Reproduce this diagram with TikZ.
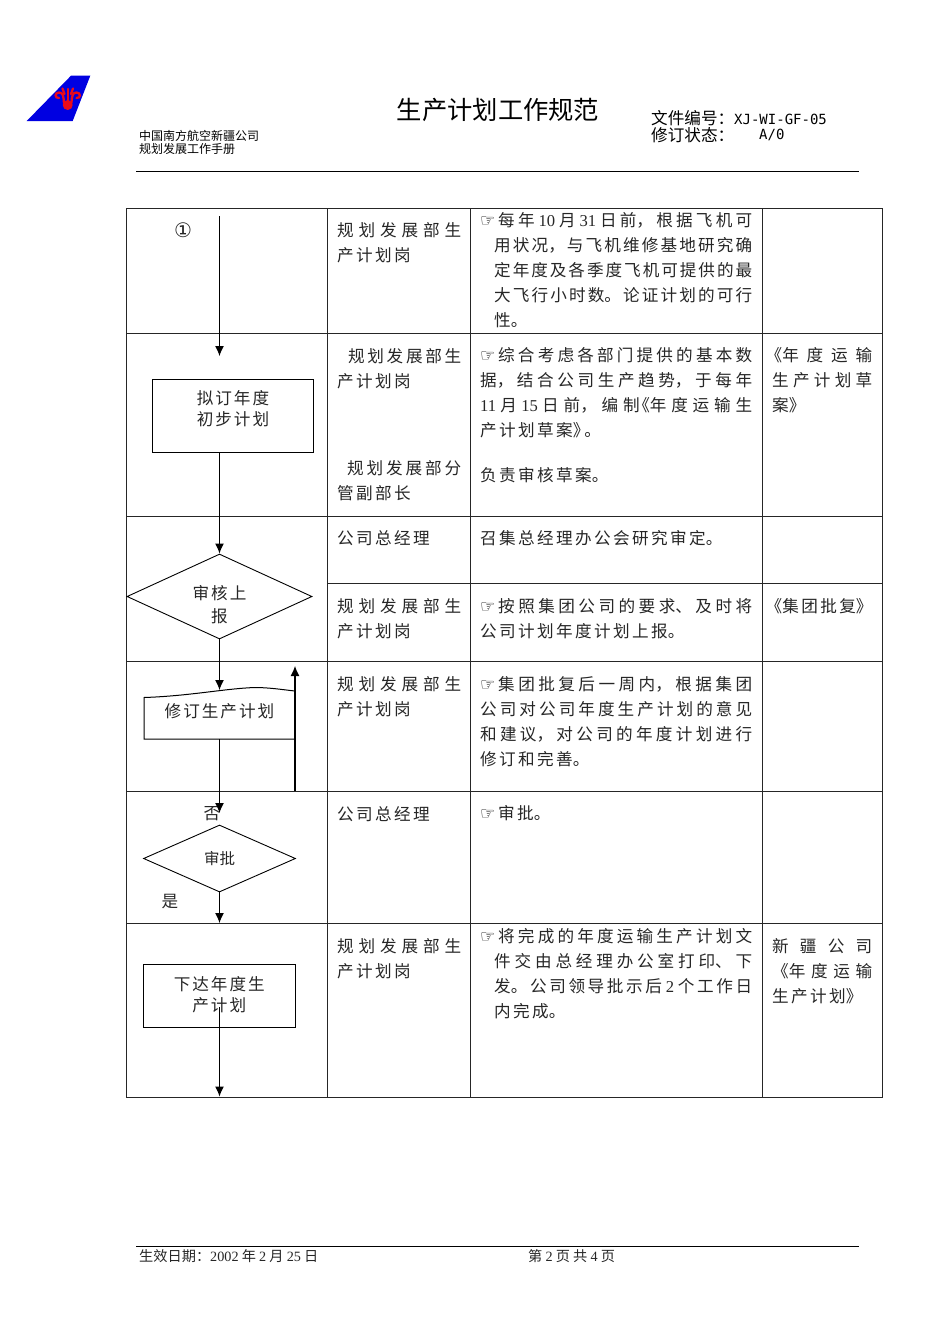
\documentclass[tikz,border=0pt]{standalone}
\usepackage{fontspec}
\usepackage{tikz}
\usetikzlibrary{arrows.meta,shapes.geometric}
\setmainfont{Noto Sans CJK SC}
\newfontfamily\latfont{Liberation Serif}
\newfontfamily\symfont{DejaVu Sans}
\newfontfamily\monofont{DejaVu Sans Mono}
\newfontfamily\flowcjk[LetterSpace=12]{Noto Sans CJK SC}
\XeTeXlinebreaklocale "zh"
\XeTeXlinebreakskip=2.4pt plus 8pt minus 2.4pt
\tolerance=9999
\hbadness=10000
\hfuzz=20pt
\newcommand{\lat}[1]{{\latfont #1}}
\newcommand{\hand}{\makebox[18pt][l]{\fontsize{17}{25}\selectfont\symfont\color{black}☞}}
\newcommand{\lbk}{\kern-6.5pt《}
\newcommand{\rbk}{》\kern-7pt\hskip 2pt}
\newcommand{\bodyfont}{\fontsize{16.6}{25}\selectfont}
\newcommand{\flowfont}{\flowcjk\fontsize{16.6}{20.5}\selectfont}
\tikzstyle{grid} = [line width=0.9pt,color=black!85]
\tikzstyle{rule} = [line width=1.3pt]
\tikzstyle{body} = [anchor=north west,inner sep=0pt,font=\bodyfont,align=justify,text width=272pt,text=black!85]
\tikzstyle{post} = [body,text width=124pt]
\tikzstyle{record} = [body,text width=100pt]
\tikzstyle{flowtext} = [inner sep=0pt,font=\flowfont,align=center,text=black!85]
\tikzstyle{headtext} = [inner sep=0pt,anchor=west,align=left,text=black]
\tikzstyle{flowbox} = [draw,rectangle,line width=1pt,inner sep=0pt]
\tikzstyle{decide} = [draw,diamond,line width=0.9pt,inner sep=0pt,align=center,text=black!85]
\tikzstyle{arrow} = [line width=1.1pt,-{Latex[length=10pt,width=9pt]}]
\tikzstyle{plain} = [line width=1pt]
\definecolor{tailblue}{RGB}{0,0,225}
\definecolor{tailred}{RGB}{235,10,25}

\begin{document}
\begin{tikzpicture}[x=1pt,y=-1pt]
\useasboundingbox (0,0) rectangle (950,1344);

% logo
\fill[tailblue] (71,75.7) -- (90.3,75.7) -- (72.7,121) -- (26.7,121) -- cycle;
\begin{scope}[color=tailred,line width=2.3pt,line cap=round]
\fill (67.7,105) circle (5);
\draw (67.7,89) -- (67.7,102);
\draw (64,103) .. controls (63.5,96) and (63,92.5) .. (59,92.5) .. controls (54.5,92.5) and (54.5,98.5) .. (59,98);
\draw (71.4,103) .. controls (72,96) and (72.5,92.5) .. (76.5,92.5) .. controls (81,92.5) and (81,98.5) .. (76.5,98);
\draw (62.5,88.5) -- (64.5,94);
\draw (73,88.5) -- (71,94);
\end{scope}

% header
\node[inner sep=0pt,font=\fontsize{25.3}{30}\selectfont] (title) at (498,110) {生产计划工作规范};
\node[headtext,font=\fontsize{12}{13}\selectfont] (company) at (139,142.5) {中国南方航空新疆公司\\规划发展工作手册};
\node[headtext,font=\fontsize{16.6}{17}\selectfont] (docno) at (651,118) {文件编号：{\monofont\fontsize{14}{17}\selectfont XJ-WI-GF-05}};
\node[headtext,font=\fontsize{16.6}{17}\selectfont] (state) at (651,135) {修订状态：};
\node[headtext,font=\monofont\fontsize{14}{17}\selectfont] (version) at (759,135) {A/0};
\draw[rule] (136,171.5) -- (859,171.5);

% table
\draw[grid] (126.5,208) rectangle (882,1097);
\draw[grid] (327.5,208) -- (327.5,1097);
\draw[grid] (470.5,208) -- (470.5,1097);
\draw[grid] (762,208) -- (762,1097);
\foreach \rowy in {333.5,516,661,791,923.5}
  \draw[grid] (126.5,\rowy) -- (882,\rowy);
\draw[grid] (327.5,583.5) -- (882,583.5);

% flow
\node[flowtext,font=\symfont\fontsize{20}{22}\selectfont] (mark) at (183,230) {①};
\coordinate (start) at (219.5,216);
\coordinate (draftin) at (219.5,356);
\node[flowbox,minimum width=161pt,minimum height=73pt] (draft) at (232.5,415.5) {};
\node[flowtext] (drafttext) at (233,408.5) {拟订年度\\初步计划};
\node[decide,minimum width=185pt,minimum height=85pt] (audit) at (219.5,596.5) {};
\node[flowtext,font=\flowcjk\fontsize{16.6}{23}\selectfont] (audittext) at (219.5,604.5) {审核上\\报};
\coordinate (revisein) at (219.5,690);
\node[flowtext] (revisetext) at (219.5,711) {修订生产计划};
\coordinate (reviseleft) at (144,697.5);
\coordinate (reviseright) at (295,691);
\coordinate (reviseldown) at (144,739);
\coordinate (reviserdown) at (295,739);
\coordinate (revisedown) at (219.5,739);
\coordinate (backtop) at (295,666);
\coordinate (backfoot) at (295,791);
\coordinate (approvein) at (219.5,813);
\node[decide,minimum width=152pt,minimum height=67pt,font=\fontsize{15.5}{18}\selectfont] (approve) at (219.5,858.5) {审批};
\node[flowtext] (no) at (212,813.5) {否};
\node[flowtext] (yes) at (170,901.5) {是};
\coordinate (issuein) at (219.5,923);
\node[flowbox,minimum width=152.5pt,minimum height=63pt] (issue) at (219.3,995.5) {};
\node[flowtext] (issuetext) at (219.3,994.5) {下达年度生\\产计划};
\coordinate (issuestart) at (219.5,1007);
\coordinate (issueout) at (219.5,1096.5);

\draw[arrow] (start) -- (draftin);
\draw[arrow] (draft.south -| start) -- (audit.north);
\draw[arrow] (audit.south) -- (revisein);
\draw[plain] (reviseleft) .. controls (190,696) and (225,688.5) .. (255,687.5) .. controls (270,687.5) and (285,690) .. (reviseright) -- (reviserdown) -- (reviseldown) -- cycle;
\draw[arrow] (revisedown) -- (approvein);
\draw[arrow] (backfoot) -- (backtop);
\draw[arrow] (approve.south) -- (issuein);
\draw[arrow] (issuestart) -- (issueout);

% second column
\node[post] (post1) at (337,222) {规划发展部生\break 产计划岗\par};
\node[post] (post2) at (337,348) {\hspace*{11pt}规划发展部生\break 产计划岗\par};
\node[post] (post3) at (337,460) {\hspace*{10pt}规划发展部分\break 管副部长\par};
\node[post] (post4) at (337,530) {公司总经理\par};
\node[post] (post5) at (337,598) {规划发展部生\break 产计划岗\par};
\node[post] (post6) at (337,676) {规划发展部生\break 产计划岗\par};
\node[post] (post7) at (337,806) {公司总经理\par};
\node[post] (post8) at (337,938) {规划发展部生\break 产计划岗\par};

% third column
\node[body] (task1) at (480,212) {\hangindent=14pt\hangafter=1\hand 每年 \lat{10} 月 \lat{31} 日前，根据飞机可\break 用状况，与飞机维修基地研究确\break 定年度及各季度飞机可提供的最\break 大飞行小时数。论证计划的可行\break 性。\par};
\node[body] (task2) at (480,347) {\hand 综合考虑各部门提供的基本数\break 据，结合公司生产趋势，于每年\break \lat{11} 月 \lat{15} 日前，编制\lbk 年度运输生\break 产计划草案\rbk 。\par};
\node[body] (task3) at (480,467) {负责审核草案。\par};
\node[body] (task4) at (480,530) {召集总经理办公会研究审定。\par};
\node[body] (task5) at (480,598) {\hand 按照集团公司的要求、及时将\break 公司计划年度计划上报。\par};
\node[body] (task6) at (480,676) {\hand 集团批复后一周内，根据集团\break 公司对公司年度生产计划的意见\break 和建议，对公司的年度计划进行\break 修订和完善。\par};
\node[body] (task7) at (480,805) {\hand 审批。\par};
\node[body] (task8) at (480,928) {\hangindent=14pt\hangafter=1\hand 将完成的年度运输生产计划文\break 件交由总经理办公室打印、下\break 发。公司领导批示后 \lat{2} 个工作日\break 内完成。\par};

% last column
\node[record] (rec1) at (772,347) {\lbk 年度运输\break 生产计划草\break 案\rbk\par};
\node[record] (rec2) at (772,598) {\lbk 集团批复\rbk\par};
\node[record] (rec3) at (772,938) {新疆公司\break\lbk 年度运输\break 生产计划\rbk\par};

% footer
\draw[plain] (136,1246.5) -- (859,1246.5);
\node[headtext,font=\fontsize{14.2}{16}\selectfont,text=black!85] (valid) at (139,1256) {生效日期：\lat{2002} 年 \lat{2} 月 \lat{25} 日};
\node[headtext,font=\fontsize{14.2}{16}\selectfont,text=black!85] (page) at (528,1256) {第 \lat{2} 页 共 \lat{4} 页};
\end{tikzpicture}
\end{document}
